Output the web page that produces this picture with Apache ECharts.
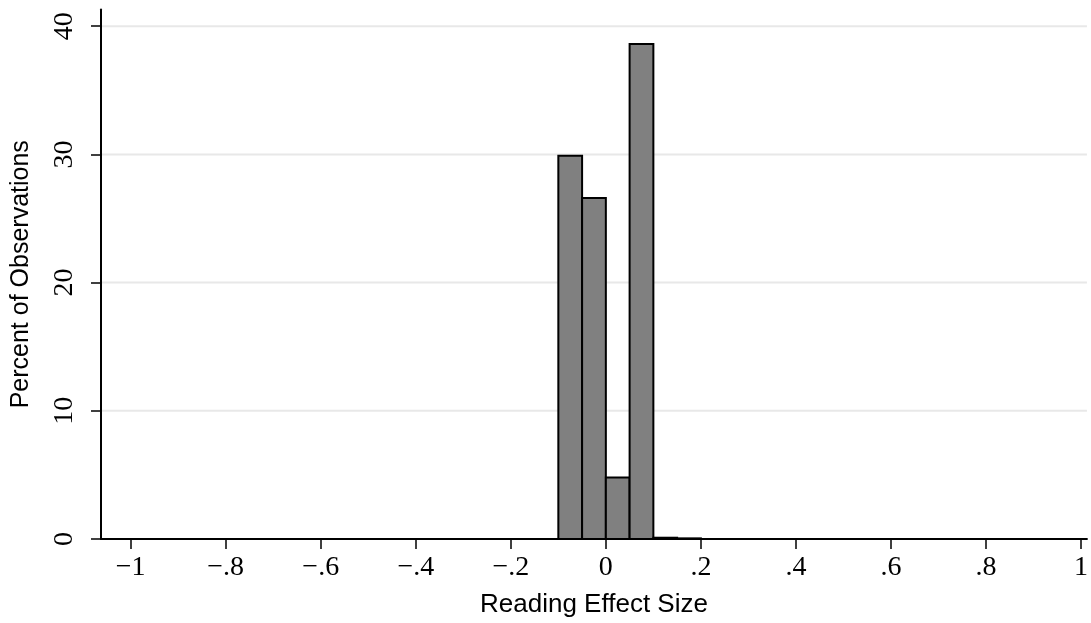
<!DOCTYPE html>
<html>
<head>
<meta charset="utf-8">
<script src="https://cdn.jsdelivr.net/npm/echarts@6/dist/echarts.min.js"></script>
<style>html,body{margin:0;padding:0;background:#fff}#c{width:1091px;height:623px}</style>
</head>
<body>
<div id="c"></div>
<script>
const binStart = [-0.10, -0.05, 0.00, 0.05, 0.10, 0.15];
const binEnd   = [-0.05,  0.00, 0.05, 0.10, 0.15, 0.20];
const percent  = [29.9, 26.6, 4.8, 38.6, 0.1, 0.05];
const xTicks = [-1, -0.8, -0.6, -0.4, -0.2, 0, 0.2, 0.4, 0.6, 0.8, 1];
const xTickLabels = ['\u22121', '\u2212.8', '\u2212.6', '\u2212.4', '\u2212.2', '0', '.2', '.4', '.6', '.8', '1'];
const yTicks = [0, 10, 20, 30, 40];

const data = binStart.map((s, i) => [s, binEnd[i], percent[i]]);
const chart = echarts.init(document.getElementById('c'), null, {renderer: 'canvas'});
const serif = '"Liberation Serif", "Times New Roman", serif';
const sans = '"Liberation Sans", Arial, sans-serif';
chart.setOption({
  animation: false,
  backgroundColor: '#ffffff',
  grid: {left: 101, right: 0, top: 9.5, bottom: 83, containLabel: false},
  xAxis: {
    type: 'value', min: -1.0625, max: 1.0125,
    name: 'Reading Effect Size', nameLocation: 'middle', nameGap: 53,
    nameTextStyle: {fontFamily: sans, fontSize: 26, color: '#000'},
    axisLine: {show: true, onZero: false, lineStyle: {color: '#000', width: 2}},
    axisTick: {show: true, length: 10, lineStyle: {color: '#000', width: 1.5}, customValues: xTicks},
    axisLabel: {
      customValues: xTicks, margin: 15, fontFamily: serif, fontSize: 28, color: '#000',
      formatter: v => { const i = xTicks.findIndex(t => Math.abs(t - v) < 1e-9); return i >= 0 ? xTickLabels[i] : ''; }
    },
    splitLine: {show: false}
  },
  yAxis: {
    type: 'value', min: 0, max: 41.3,
    name: 'Percent of Observations', nameLocation: 'middle', nameGap: 67,
    nameTextStyle: {fontFamily: sans, fontSize: 25, color: '#000'},
    axisLine: {show: true, onZero: false, lineStyle: {color: '#000', width: 2}},
    axisTick: {show: true, length: 10, lineStyle: {color: '#000', width: 1.5}, customValues: yTicks},
    axisLabel: {customValues: yTicks, rotate: 90, margin: 22, fontFamily: serif, fontSize: 28, color: '#000'},
    splitLine: {show: false}
  },
  series: [
    {
      type: 'custom',
      data: yTicks.filter(v => v > 0).map(v => [v]),
      renderItem: (params, api) => {
        const y = api.coord([0, api.value(0)])[1];
        return {type: 'line', shape: {x1: params.coordSys.x + 1, y1: y, x2: params.coordSys.x + params.coordSys.width, y2: y},
          style: {stroke: '#e8e8e8', lineWidth: 2}, z2: 0};
      },
      z: 1, silent: true
    },
    {
      type: 'custom',
      data: data,
      encode: {x: [0, 1], y: 2},
      renderItem: (params, api) => {
        const p0 = api.coord([api.value(0), 0]);
        const p1 = api.coord([api.value(1), api.value(2)]);
        return {type: 'rect', shape: {x: p0[0], y: p1[1], width: p1[0] - p0[0], height: p0[1] - p1[1]},
          style: {fill: '#808080', stroke: '#000', lineWidth: 2}};
      },
      z: 2
    }
  ]
});
</script>
</body>
</html>
